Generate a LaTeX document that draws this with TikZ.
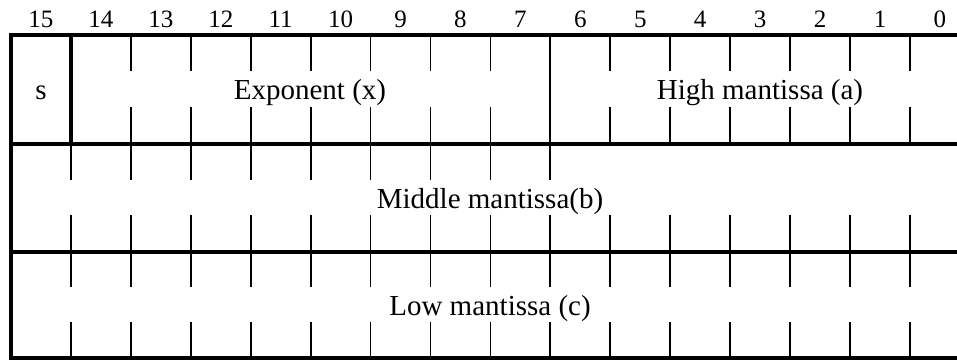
\documentclass[tikz,border=0pt]{standalone}
\usepackage{fontspec}
\setmainfont{Liberation Serif}
\begin{document}
\begin{tikzpicture}[x=1pt,y=1pt,
  thickline/.style={line width=3.3pt},
  thinline/.style={line width=1.8pt},
  lbl/.style={font=\fontsize{29}{34}\selectfont, inner sep=0pt, anchor=base},
  bitlbl/.style={font=\fontsize{25}{30}\selectfont, inner sep=0pt, anchor=base}]
\useasboundingbox (0,0) rectangle (957,-360);
\clip (0,0) rectangle (957,-360);
\def\stp{59.93}
% outer frame
\draw[thickline, line join=miter] (980,-35) -- (11,-35) -- (11,-358) -- (980,-358);
\foreach \yy in {144,252} \draw[thickline] (11,-\yy) -- (980,-\yy);
% bit numbers
\foreach \b in {0,...,15} {
  \pgfmathsetmacro{\cx}{11+\stp*(15-\b+0.5)}
  \node[bitlbl] (bit\b) at (\cx,-27) {\b};
}
% row 1
\draw[thickline] (11+\stp,-35) -- (11+\stp,-144);
\draw[thinline] (11+9*\stp,-35) -- (11+9*\stp,-144);
\foreach \k in {2,...,8,10,11,...,15} {
  \draw[thinline] (11+\k*\stp,-35) -- (11+\k*\stp,-71);
  \draw[thinline] (11+\k*\stp,-107) -- (11+\k*\stp,-144);
}
% row 2
\foreach \k in {1,...,9} \draw[thinline] (11+\k*\stp,-144) -- (11+\k*\stp,-180);
\foreach \k in {1,...,15} \draw[thinline] (11+\k*\stp,-215) -- (11+\k*\stp,-252);
% row 3
\foreach \k in {1,...,15} {
  \draw[thinline] (11+\k*\stp,-252) -- (11+\k*\stp,-287);
  \draw[thinline] (11+\k*\stp,-322) -- (11+\k*\stp,-358);
}
% field labels
\node[lbl] (sign) at (41,-99.5) {s};
\node[lbl] (expo) at (310,-99.5) {Exponent (x)};
\node[lbl] (high) at (760,-99.5) {High mantissa (a)};
\node[lbl] (mid) at (490,-208) {Middle mantissa(b)};
\node[lbl] (low) at (490,-315) {Low mantissa (c)};
\end{tikzpicture}
\end{document}
